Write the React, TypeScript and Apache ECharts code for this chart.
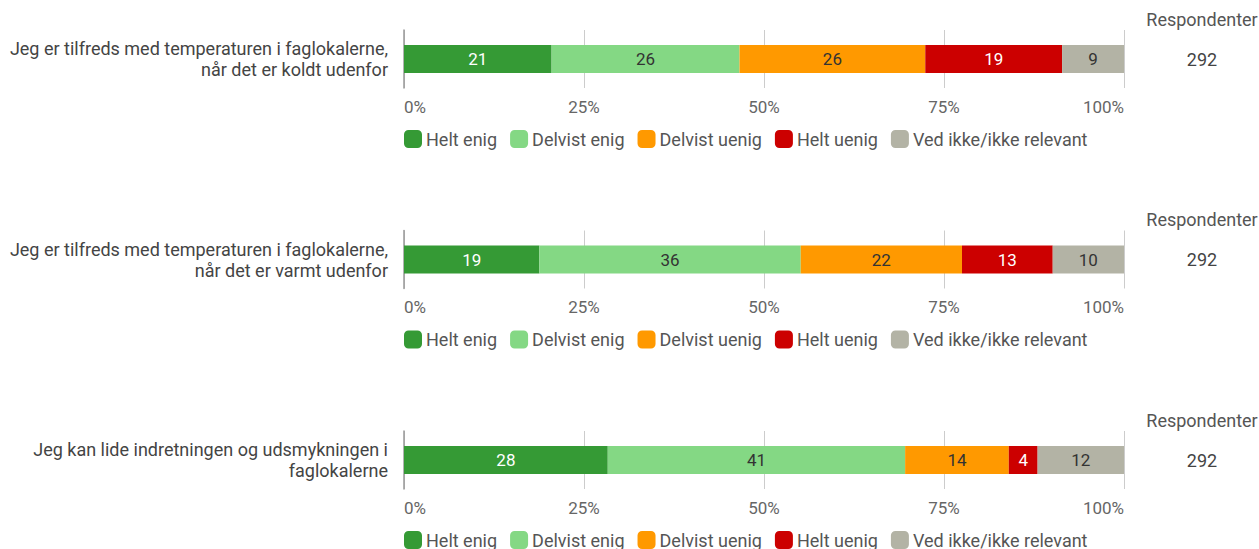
import React, { useEffect, useRef } from "react";
import * as echarts from "echarts";

const questions = [
  "Jeg er tilfreds med temperaturen i faglokalerne,\nnår det er koldt udenfor",
  "Jeg er tilfreds med temperaturen i faglokalerne,\nnår det er varmt udenfor",
  "Jeg kan lide indretningen og udsmykningen i\nfaglokalerne",
];
const answerNames = ["Helt enig", "Delvist enig", "Delvist uenig", "Helt uenig", "Ved ikke/ikke relevant"];
const answerColors = ["#359a35", "#84d884", "#ff9900", "#cc0000", "#b3b3a5"];
const labelColors = ["#ffffff", "#333333", "#333333", "#ffffff", "#333333"];
const panel1 = [20.5, 26.1, 25.8, 19.0, 8.6];
const panel2 = [18.8, 36.3, 22.4, 12.6, 9.9];
const panel3 = [28.3, 41.3, 14.4, 4.0, 12.0];
const respondents = [292, 292, 292];
const panels = [panel1, panel2, panel3];

const FONT = "Roboto";

export default function App() {
  const ref = useRef<HTMLDivElement>(null);
  useEffect(() => {
    if (!ref.current) return;
    const chart = echarts.init(ref.current, null, { renderer: "svg" });
    const step = 200.5;
    const grids: any[] = [];
    const xAxes: any[] = [];
    const yAxes: any[] = [];
    const series: any[] = [];
    const legends: any[] = [];
    const graphics: any[] = [];
    panels.forEach((vals, p) => {
      const off = p * step;
      grids.push({ left: 404, width: 720, top: 30 + off, height: 58 });
      xAxes.push({
        type: "value",
        gridIndex: p,
        min: 0,
        max: 100,
        interval: 25,
        axisLine: { show: false },
        axisTick: { show: false },
        splitLine: { show: true, lineStyle: { color: "#cccccc", width: 1 } },
        axisLabel: {
          formatter: "{value}%",
          color: "#666666",
          fontSize: 17,
          fontFamily: FONT,
          margin: 10,
          alignMinLabel: "left",
          alignMaxLabel: "right",
        },
      });
      yAxes.push({
        type: "category",
        gridIndex: p,
        data: [questions[p]],
        axisLine: { show: true, lineStyle: { color: "#999999", width: 1.5 } },
        axisTick: { show: false },
        axisLabel: {
          color: "#444444",
          fontSize: 18,
          fontFamily: FONT,
          lineHeight: 21,
          align: "right",
          margin: 16,
        },
      });
      vals.forEach((v, i) => {
        series.push({
          type: "bar",
          name: answerNames[i],
          xAxisIndex: p,
          yAxisIndex: p,
          stack: "s" + p,
          barWidth: 28,
          data: [v],
          itemStyle: { color: answerColors[i] },
          label: {
            show: true,
            position: "inside",
            formatter: (d: any) => String(Math.round(d.value)),
            color: labelColors[i],
            fontSize: 17,
            fontFamily: FONT,
          },
        });
      });
      legends.push({
        left: 399,
        top: 125 + off,
        data: answerNames,
        icon: "roundRect",
        itemWidth: 18,
        itemHeight: 18,
        itemGap: 13,
        selectedMode: false,
        textStyle: { color: "#555555", fontSize: 18, fontFamily: FONT, padding: [0, 0, 0, -1] },
      });
      graphics.push({
        type: "text",
        x: 1202,
        y: 19 + off,
        style: {
          text: "Respondenter",
          fill: "#555555",
          fontSize: 18,
          fontFamily: FONT,
          align: "center",
          verticalAlign: "middle",
        },
      });
      graphics.push({
        type: "text",
        x: 1202,
        y: 59 + off,
        style: {
          text: String(respondents[p]),
          fill: "#444444",
          fontSize: 18,
          fontFamily: FONT,
          align: "center",
          verticalAlign: "middle",
        },
      });
    });
    chart.setOption({
      animation: false,
      backgroundColor: "#ffffff",
      grid: grids,
      xAxis: xAxes,
      yAxis: yAxes,
      series,
      legend: legends,
      graphic: graphics,
    });
    return () => chart.dispose();
  }, []);
  return (
    <div
      ref={ref}
      style={{ position: "fixed", left: 0, top: 0, width: 1259, height: 549 }}
    />
  );
}
